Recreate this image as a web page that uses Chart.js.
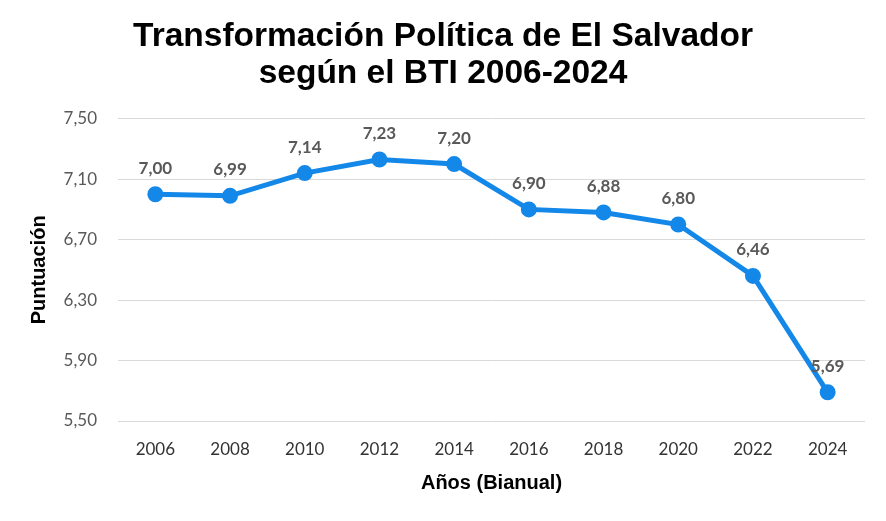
<!DOCTYPE html>
<html>
<head>
<meta charset="utf-8">
<script src="https://cdn.jsdelivr.net/npm/chart.js@4.4.1/dist/chart.umd.min.js"></script>
<style>
  html, body { margin: 0; padding: 0; background: #fff; }
  #wrap { width: 886px; height: 521px; }
</style>
</head>
<body>
<div id="wrap"><canvas id="grafico" width="886" height="521"></canvas></div>
<script>
const anios = ['2006', '2008', '2010', '2012', '2014', '2016', '2018', '2020', '2022', '2024'];
const puntuacion = [7.00, 6.99, 7.14, 7.23, 7.20, 6.90, 6.88, 6.80, 6.46, 5.69];
const ticksY = [5.50, 5.90, 6.30, 6.70, 7.10, 7.50];

const fmt = v => v.toFixed(2).replace('.', ',');

// etiquetas encima de cada punto
const etiquetasPlugin = {
  id: 'etiquetas',
  afterDatasetsDraw(chart) {
    const ctx = chart.ctx;
    const meta = chart.getDatasetMeta(0);
    ctx.save();
    ctx.font = 'bold 17px Lato';
    ctx.fillStyle = '#595959';
    ctx.textAlign = 'center';
    ctx.textBaseline = 'middle';
    meta.data.forEach((p, i) => {
      ctx.fillText(fmt(puntuacion[i]), p.x, p.y - 26);
    });
    ctx.restore();
  }
};

const ctx = document.getElementById('grafico').getContext('2d');
new Chart(ctx, {
  type: 'line',
  data: {
    labels: anios,
    datasets: [{
      data: puntuacion,
      borderColor: '#1488e8',
      backgroundColor: '#1488e8',
      borderWidth: 5,
      pointRadius: 5.5,
      pointHoverRadius: 5.5,
      tension: 0
    }]
  },
  options: {
    responsive: false,
    animation: false,
    layout: { padding: { left: 21, right: 21, top: 0, bottom: 0 } },
    plugins: {
      legend: { display: false },
      tooltip: { enabled: false },
      title: {
        display: true,
        text: ['Transformación Política de El Salvador', 'según el BTI 2006-2024'],
        color: '#000',
        font: { family: 'Liberation Sans', size: 33.5, weight: 'bold', lineHeight: 1.1 },
        padding: { top: 18, bottom: 27 }
      }
    },
    scales: {
      x: {
        offset: true,
        grid: { display: false, drawTicks: false },
        border: { display: false },
        ticks: { color: '#333', font: { family: 'Lato', size: 17 }, padding: 18 },
        title: {
          display: true,
          text: 'Años (Bianual)',
          color: '#000',
          font: { family: 'Liberation Sans', size: 20, weight: 'bold' },
          padding: { top: 10, bottom: 26 }
        },
        afterFit(scale) { scale.height = 100; }
      },
      y: {
        min: 5.5,
        max: 7.5,
        afterBuildTicks(scale) { scale.ticks = ticksY.map(v => ({ value: v })); },
        grid: { color: '#d9d9d9', lineWidth: 1, drawTicks: false },
        border: { display: false },
        ticks: {
          color: '#595959',
          font: { family: 'Lato', size: 17 },
          padding: 21,
          callback: v => fmt(v)
        },
        title: {
          display: true,
          text: 'Puntuación',
          color: '#000',
          font: { family: 'Liberation Sans', size: 20, weight: 'bold' },
          padding: { top: 6, bottom: 0 }
        },
        afterFit(scale) { scale.width = 97; }
      }
    }
  },
  plugins: [etiquetasPlugin]
});
</script>
</body>
</html>
